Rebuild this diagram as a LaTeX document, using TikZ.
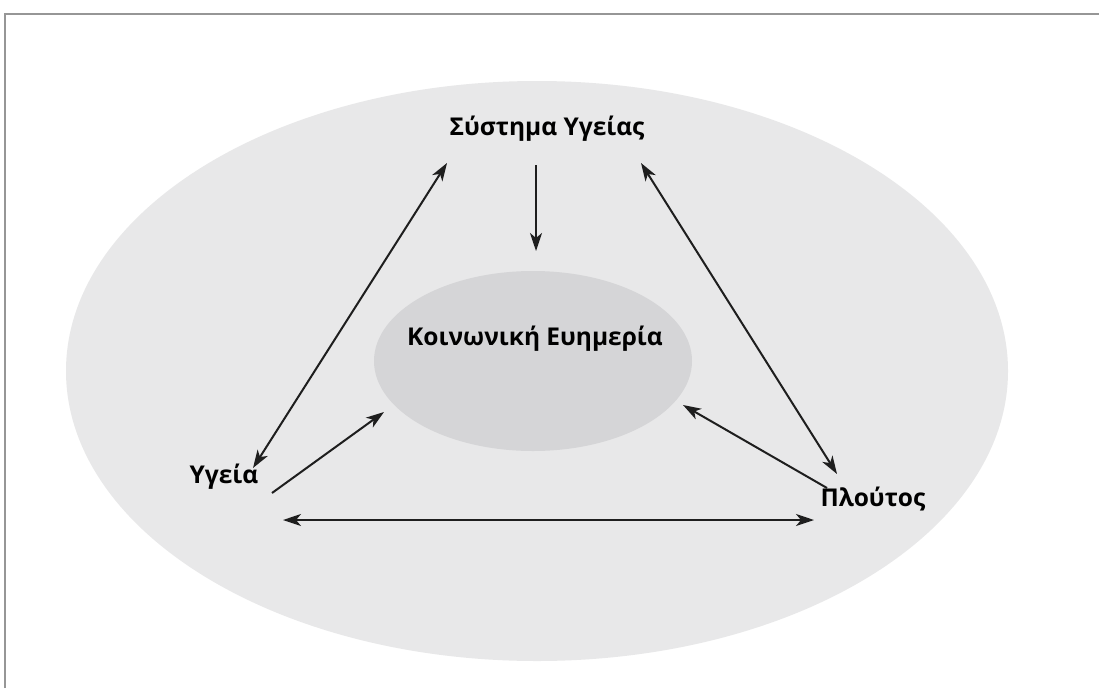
\documentclass[tikz,border=0pt]{standalone}
\usepackage{fontspec}
\setmainfont{Open Sans}
\usetikzlibrary{arrows.meta,shapes.geometric}
\definecolor{outerfill}{RGB}{232,232,233}
\definecolor{innerfill}{RGB}{213,213,215}
\definecolor{framecol}{RGB}{150,150,150}
\definecolor{arrcol}{RGB}{30,30,30}
\tikzset{
  lbl/.style={font=\bfseries\fontsize{24.5}{28}\selectfont, text=black, inner sep=0pt},
  conn/.style={draw=arrcol, line width=2pt, -{Stealth[length=18pt,width=12pt,inset=5pt]}},
  biconn/.style={draw=arrcol, line width=2pt, {Stealth[length=18pt,width=12pt,inset=5pt]}-{Stealth[length=18pt,width=12pt,inset=5pt]}},
}
\begin{document}
\begin{tikzpicture}[x=1pt,y=-1pt]
\useasboundingbox (0,0) rectangle (1099,688);
\fill[white] (0,0) rectangle (1099,688);
\draw[framecol, line width=2.5pt] (5,688) -- (5,14) -- (1099,14);
\fill[outerfill] (537,371) ellipse [x radius=471, y radius=290];
\node[ellipse, fill=innerfill, minimum width=318pt, minimum height=180pt, inner sep=0pt] (core) at (533,361) {};
\node[lbl] (kt) at (535,339) {Κοινωνική Ευημερία};
\node[lbl] (sys) at (547,129) {Σύστημα Υγείας};
\node[lbl] (yg) at (224,477) {Υγεία};
\node[lbl] (pl) at (873,499) {Πλούτος};
\coordinate (s1) at (536,165);
\coordinate (s2) at (536,251);
\coordinate (l1) at (447,163);
\coordinate (l2) at (253,468);
\coordinate (r1) at (641,163);
\coordinate (r2) at (837,474);
\coordinate (y1) at (272,493);
\coordinate (y2) at (384,412);
\coordinate (p1) at (827,488);
\coordinate (p2) at (683,405);
\coordinate (h1) at (283,520);
\coordinate (h2) at (814,520);
\draw[conn] (s1) -- (s2);
\draw[biconn] (l1) -- (l2);
\draw[biconn] (r1) -- (r2);
\draw[conn] (y1) -- (y2);
\draw[conn] (p1) -- (p2);
\draw[biconn] (h1) -- (h2);
\end{tikzpicture}
\end{document}
